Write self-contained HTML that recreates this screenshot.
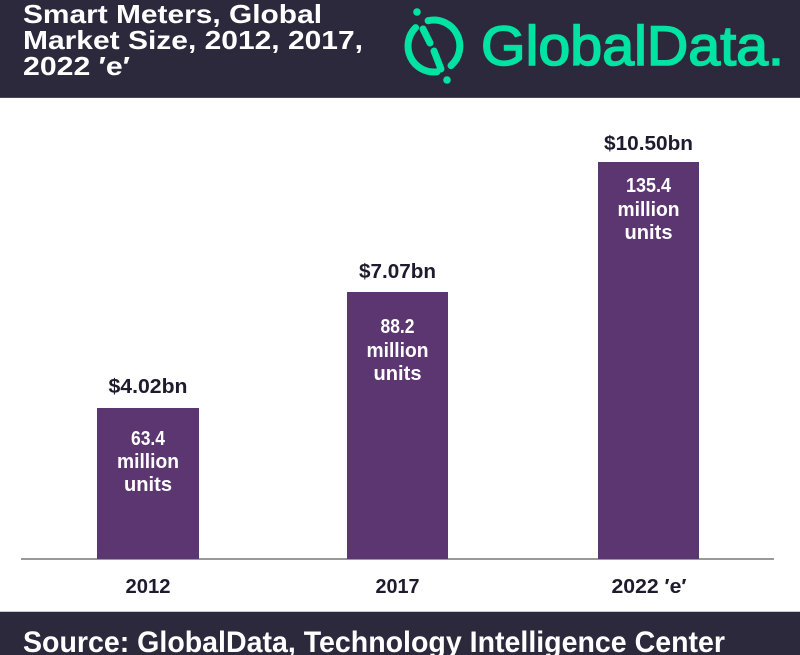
<!DOCTYPE html>
<html><head><meta charset="utf-8"><style>
html,body{margin:0;padding:0;background:#fff;}
svg{display:block;}
</style></head><body>
<svg width="800" height="655" viewBox="0 0 800 655" xmlns="http://www.w3.org/2000/svg" font-family="'Liberation Sans', sans-serif">
  <rect x="0" y="0" width="800" height="655" fill="#ffffff"/>
  <!-- Header -->
  <rect x="0" y="0" width="800" height="98" fill="#2d293d"/>
  <rect x="0" y="97" width="800" height="1" fill="#4a4658"/>
  <g fill="#ffffff" font-weight="bold" font-size="26">
    <text x="23" y="23" textLength="299" lengthAdjust="spacingAndGlyphs">Smart Meters, Global</text>
    <text x="23" y="49" textLength="340" lengthAdjust="spacingAndGlyphs">Market Size, 2012, 2017,</text>
    <text x="23" y="75" textLength="107" lengthAdjust="spacingAndGlyphs">2022 ′e′</text>
  </g>
  <!-- Logo -->
  <g stroke="#00e3a2" stroke-width="7" fill="none" stroke-linecap="round">
    <path d="M415.6,27.6 A26,26 0 0 0 437,71.8"/>
    <path d="M428.1,20.7 A26,26 0 0 1 451,65.6"/>
    <line x1="423" y1="29" x2="430" y2="43"/>
    <line x1="434" y1="51" x2="441" y2="69"/>
  </g>
  <circle cx="417" cy="12" r="3.8" fill="#00e3a2"/>
  <circle cx="447" cy="80" r="3.8" fill="#00e3a2"/>
  <text x="481" y="65" font-size="56" fill="#00e3a2" stroke="#00e3a2" stroke-width="1.6" textLength="303" lengthAdjust="spacingAndGlyphs">GlobalData.</text>

  <!-- Axis -->
  <rect x="21" y="558" width="753" height="2" fill="#9a9a9a"/>
  <!-- Bars -->
  <rect x="97" y="408" width="102" height="151" fill="#5b3670"/>
  <rect x="347" y="292" width="101" height="267" fill="#5b3670"/>
  <rect x="598" y="162" width="101" height="397" fill="#5b3670"/>

  <!-- Value labels -->
  <g fill="#1e1b2e" font-weight="bold" font-size="20" text-anchor="middle">
    <text x="148" y="393" textLength="79" lengthAdjust="spacingAndGlyphs">$4.02bn</text>
    <text x="397.5" y="278" textLength="77" lengthAdjust="spacingAndGlyphs">$7.07bn</text>
    <text x="648.5" y="150" textLength="89" lengthAdjust="spacingAndGlyphs">$10.50bn</text>
  </g>
  <!-- In-bar labels -->
  <g fill="#ffffff" font-weight="bold" font-size="20" text-anchor="middle">
    <text x="148" y="445" textLength="34" lengthAdjust="spacingAndGlyphs">63.4</text>
    <text x="148" y="468" textLength="62" lengthAdjust="spacingAndGlyphs">million</text>
    <text x="148" y="491" textLength="48" lengthAdjust="spacingAndGlyphs">units</text>

    <text x="397.5" y="333" textLength="34" lengthAdjust="spacingAndGlyphs">88.2</text>
    <text x="397.5" y="357" textLength="62" lengthAdjust="spacingAndGlyphs">million</text>
    <text x="397.5" y="380" textLength="48" lengthAdjust="spacingAndGlyphs">units</text>

    <text x="648.5" y="192" textLength="45" lengthAdjust="spacingAndGlyphs">135.4</text>
    <text x="648.5" y="216" textLength="62" lengthAdjust="spacingAndGlyphs">million</text>
    <text x="648.5" y="239" textLength="48" lengthAdjust="spacingAndGlyphs">units</text>
  </g>
  <!-- Category labels -->
  <g fill="#1e1b2e" font-weight="bold" font-size="20" text-anchor="middle">
    <text x="148" y="593" textLength="45" lengthAdjust="spacingAndGlyphs">2012</text>
    <text x="397.5" y="593" textLength="44" lengthAdjust="spacingAndGlyphs">2017</text>
    <text x="649" y="593" textLength="75" lengthAdjust="spacingAndGlyphs">2022 ′e′</text>
  </g>

  <!-- Footer -->
  <rect x="0" y="611" width="800" height="44" fill="#2d293d"/>
  <rect x="0" y="611" width="800" height="1" fill="#c9c8cf"/>
  <text x="23" y="652" fill="#ffffff" font-weight="bold" font-size="30" textLength="702" lengthAdjust="spacingAndGlyphs">Source: GlobalData, Technology Intelligence Center</text>
</svg>
</body></html>
